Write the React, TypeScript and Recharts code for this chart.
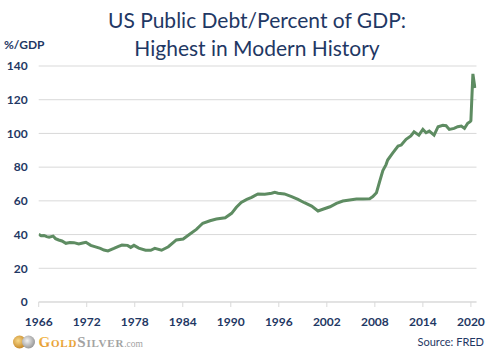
import React from 'react'
import { LineChart, Line, XAxis, YAxis, CartesianGrid } from 'recharts'

// decimal year of each reading (quarterly series)
const years = [
  1966.0, 1966.3, 1966.66, 1967.0, 1967.3, 1967.8, 1968.1, 1968.5, 1968.9, 1969.4,
  1969.9, 1970.4, 1971.0, 1971.5, 1971.9, 1972.5, 1973.3, 1973.7, 1974.15, 1974.65,
  1975.4, 1975.9, 1976.4, 1977.1, 1977.5, 1977.9, 1978.5, 1979.35, 1980.0, 1980.5,
  1981.35, 1982.2, 1983.2, 1984.05, 1984.9, 1985.7, 1986.5, 1987.4, 1988.2, 1989.3,
  1990.1, 1990.7, 1991.3, 1992.0, 1992.6, 1993.4, 1994.25, 1995.1, 1995.5, 1995.9,
  1996.7, 1997.6, 1998.4, 1999.2, 2000.1, 2000.9, 2001.5, 2002.4, 2003.2, 2004.0,
  2004.85, 2005.7, 2006.5, 2007.35, 2007.75, 2008.2, 2008.6, 2009.0, 2009.4, 2009.6,
  2010.2, 2010.9, 2011.3, 2011.9, 2012.5, 2012.9, 2013.5, 2014.0, 2014.4, 2014.8,
  2015.4, 2015.9, 2016.5, 2016.9, 2017.3, 2017.9, 2018.35, 2018.8, 2019.2, 2019.6,
  2019.9, 2020.0, 2020.25, 2020.5,
]

// public debt as % of GDP
const debtPct = [
  40.2, 39.3, 39.5, 38.8, 38.4, 39.1, 37.6, 36.8, 36.2, 34.8,
  35.3, 35.2, 34.4, 35.0, 35.4, 33.6, 32.4, 31.8, 30.8, 30.3,
  31.8, 32.9, 33.8, 33.6, 32.4, 33.6, 32.0, 30.7, 30.7, 31.8,
  30.7, 32.8, 36.8, 37.4, 40.3, 43.1, 46.7, 48.2, 49.2, 50.0,
  52.6, 56.2, 59.1, 60.9, 62.1, 64.1, 63.9, 64.5, 65.1, 64.5,
  64.1, 62.5, 60.9, 58.9, 56.9, 54.0, 55.0, 56.5, 58.5, 59.9,
  60.5, 61.1, 61.1, 61.3, 62.5, 64.8, 71.5, 78.0, 81.5, 84.2,
  88.2, 92.5, 93.1, 96.5, 98.5, 101.0, 99.0, 102.4, 100.4, 101.4,
  99.0, 104.0, 104.8, 104.6, 102.4, 103.0, 104.0, 104.4, 103.0, 106.0,
  107.0, 107.6, 135.3, 127.0,
]

const xTicks = [1966, 1972, 1978, 1984, 1990, 1996, 2002, 2008, 2014, 2020]
const yTicks = [0, 20, 40, 60, 80, 100, 120, 140]

const data = years.map((y, i) => ({ year: y, pct: debtPct[i] }))

const NAVY = '#1f3864'
const FONT = 'Lato, "Open Sans", sans-serif'

export default function App() {
  const tickStyle = { fill: NAVY, fontSize: 12, fontWeight: 700, fontFamily: FONT }

  return (
    <div style={{ position: 'absolute', left: 0, top: 0, width: 493, height: 361, background: '#fff', fontFamily: FONT }}>
      {/* title */}
      <div
        style={{
          position: 'absolute',
          left: 0,
          top: 6,
          width: 514,
          textAlign: 'center',
          color: NAVY,
          fontSize: 21,
          lineHeight: '28px',
        }}
      >
        US Public Debt/Percent of GDP:
        <br />
        Highest in Modern History
      </div>
      <div style={{ position: 'absolute', left: 4, top: 37, color: NAVY, fontSize: 12, fontWeight: 700 }}>%/GDP</div>

      <LineChart
        width={493}
        height={361}
        data={data}
        margin={{ top: 66, right: 16.5, bottom: 29, left: 0 }}
      >
        <CartesianGrid vertical={false} stroke="#d9d9d9" strokeWidth={1} />
        <XAxis
          dataKey="year"
          type="number"
          domain={[1966, 2020.7]}
          ticks={xTicks}
          height={30}
          tick={tickStyle}
          tickSize={5}
          tickMargin={10}
          stroke="#d9d9d9"
          tickLine={{ stroke: '#d9d9d9' }}
          allowDataOverflow
        />
        <YAxis
          domain={[0, 140]}
          ticks={yTicks}
          width={38.7}
          tick={tickStyle}
          tickSize={0}
          tickMargin={11}
          axisLine={false}
          tickLine={false}
        />
        <Line
          type="linear"
          dataKey="pct"
          stroke="#5e8c62"
          strokeWidth={3}
          dot={false}
          isAnimationActive={false}
        />
      </LineChart>

      {/* footer */}
      <svg style={{ position: 'absolute', left: 0, top: 330 }} width={493} height={31}>
        <defs>
          <radialGradient id="gc" cx="40%" cy="40%" r="60%">
            <stop offset="0%" stopColor="#f8d98a" />
            <stop offset="100%" stopColor="#c88a2a" />
          </radialGradient>
          <radialGradient id="sc" cx="40%" cy="40%" r="60%">
            <stop offset="0%" stopColor="#f2f2f2" />
            <stop offset="100%" stopColor="#9a9a9a" />
          </radialGradient>
          <linearGradient id="gt" x1="0" y1="0" x2="0" y2="1">
            <stop offset="0%" stopColor="#f6c257" />
            <stop offset="100%" stopColor="#e08f24" />
          </linearGradient>
        </defs>
        <circle cx={19.5} cy={12} r={6.5} fill="url(#gc)" />
        <circle cx={28.5} cy={12} r={6.5} fill="url(#sc)" />
        <text x={38.5} y={17} fontFamily='"Liberation Serif", serif' fontWeight={700} letterSpacing={0.8}>
          <tspan fill="url(#gt)" fontSize={15}>G</tspan>
          <tspan fill="url(#gt)" fontSize={11}>OLD</tspan>
          <tspan fill="#a3a3a3" fontSize={15}>S</tspan>
          <tspan fill="#a3a3a3" fontSize={11}>ILVER</tspan>
          <tspan fill="#a3a3a3" fontSize={9.5} fontWeight={400} letterSpacing={0}>.com</tspan>
        </text>
        <text x={484} y={16} textAnchor="end" fill={NAVY} fontSize={11} fontFamily={FONT}>
          Source: FRED
        </text>
      </svg>
    </div>
  )
}
